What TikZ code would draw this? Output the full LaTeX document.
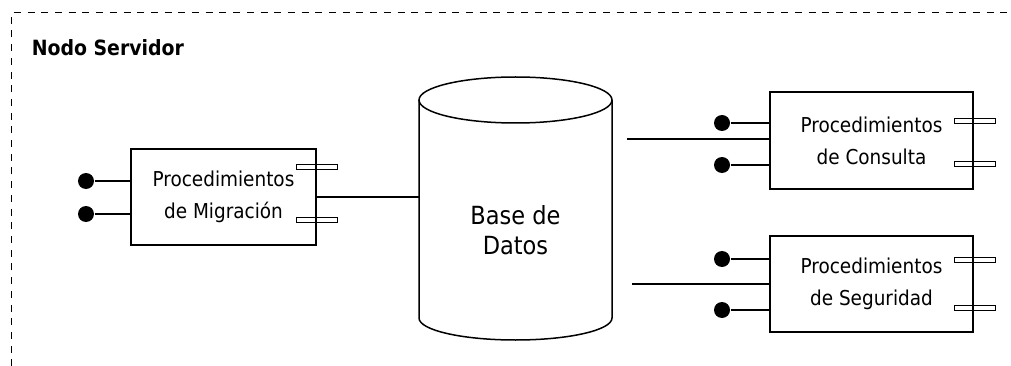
\documentclass[tikz,border=0pt]{standalone}
\usepackage{fontspec}
\setmainfont{DejaVu Sans Condensed}
\begin{document}
\begin{tikzpicture}[x=1pt, y=-1pt, line width=1.5pt,
  comp node/.style={draw, line width=1.8pt, align=center, inner sep=0pt, font=\fontsize{20.5}{32}\selectfont},
  pin dot/.style={circle, fill, inner sep=0pt, minimum size=16pt},
  pin line/.style={line width=2.5pt},
  port/.style={draw, fill=white, line width=1.2pt, minimum width=41pt, minimum height=5pt, inner sep=0pt}]
\useasboundingbox (0,0) rectangle (1011,366);
\clip (0,0) rectangle (1011,366);
\draw[line width=1.9pt, dash pattern=on 7pt off 6.7pt] (11.5,380) |- (1030,12.5);
\node[anchor=base west, inner sep=0pt, font=\fontsize{21}{24}\selectfont\bfseries] (title) at (31,56) {Nodo Servidor};
% base de datos
\draw (419,100) -- (419,318) arc[start angle=180, end angle=0, x radius=96.5, y radius=22] -- (612,100);
\draw (515.5,100) ellipse [x radius=96.5, y radius=23];
\node[align=center, font=\fontsize{25}{30}\selectfont] (db) at (515.5,230) {Base de\\Datos};
\coordinate (dbL) at (419,197);
\coordinate (consL) at (627,139);
\coordinate (segL) at (632,284);
% puertos
\foreach \x/\y [count=\i] in {317/167, 317/220, 975/121, 975/164, 975/260, 975/308}
  \node[port] (port\i) at (\x,\y) {};
% componentes
\node[comp node, minimum width=185pt, minimum height=96pt] (mig) at (223.5,197) {Procedimientos\\de Migración};
\node[comp node, minimum width=203pt, minimum height=97pt] (cons) at (871.5,140.5) {Procedimientos\\de Consulta};
\node[comp node, minimum width=203pt, minimum height=96pt] (seg) at (871.5,284) {Procedimientos\\de Seguridad};
% interfaces
\foreach \n/\x/\y/\b in {m1/86/181/mig, m2/86/214/mig, c1/722/123/cons, c2/722/165/cons, s1/722/259/seg, s2/722/310/seg} {
  \node[pin dot] (\n) at (\x,\y) {};
  \draw[pin line] (\n) -- (\n -| \b.west);
}
\path
  (mig.east) edge (dbL)
  (consL) edge (consL -| cons.west)
  (segL) edge (segL -| seg.west)
  ;
\end{tikzpicture}
\end{document}
